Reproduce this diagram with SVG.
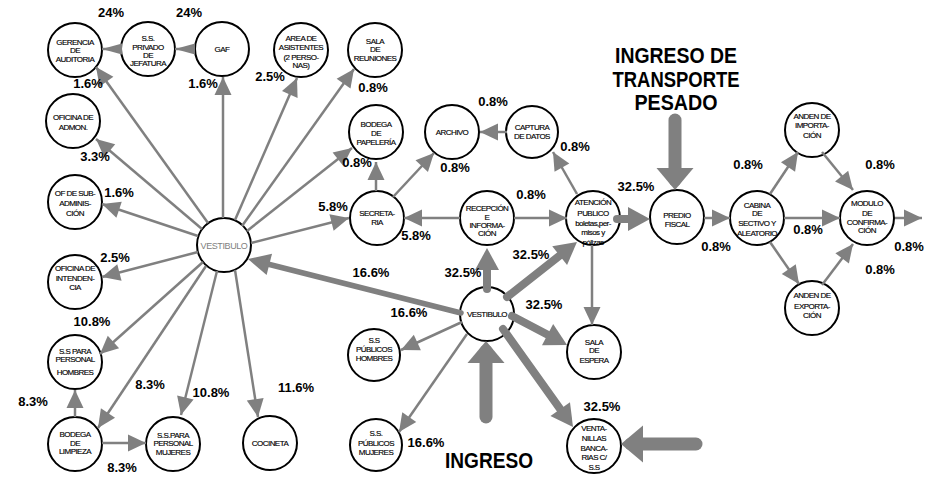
<svg xmlns="http://www.w3.org/2000/svg" width="926" height="477" viewBox="0 0 926 477">
<style>
.node circle{fill:#fff;stroke:#000;stroke-width:2}
.node text{font-family:"Liberation Sans",Arial,sans-serif;font-size:8px;letter-spacing:-0.55px;text-anchor:middle;fill:#000;stroke:#000;stroke-width:0.15}
#n-vestibulo-l text{font-size:9px;letter-spacing:-0.4px;fill:#808080;stroke:none}
.c{stroke:#808080;fill:none}
.thin{stroke-width:2.5;marker-end:url(#mt)}
.dart{stroke-width:2.5;marker-end:url(#md)}
.thick{stroke-width:8;stroke-linecap:round;marker-end:url(#mk)}
.mid{stroke-width:5.5;stroke-linecap:round;marker-end:url(#mm)}
.big{stroke-width:13;stroke-linecap:round;marker-end:url(#mb)}
.pct{font-family:"Liberation Sans",Arial,sans-serif;font-weight:bold;font-size:13px;text-anchor:middle;fill:#000}
.title{font-family:"Liberation Sans",Arial,sans-serif;font-weight:bold;font-size:22px;text-anchor:middle;fill:#000}
</style>
<defs>
<marker id="mt" markerUnits="userSpaceOnUse" markerWidth="18" markerHeight="17" refX="18" refY="8.5" orient="auto" overflow="visible"><path d="M0,0 L18,8.5 L0,17 z" fill="#808080"/></marker>
<marker id="md" markerUnits="userSpaceOnUse" markerWidth="20" markerHeight="11" refX="20" refY="5.5" orient="auto" overflow="visible"><path d="M0,0 L20,5.5 L0,11 z" fill="#808080"/></marker>
<marker id="mk" markerUnits="userSpaceOnUse" markerWidth="22" markerHeight="24" refX="12" refY="12" orient="auto" overflow="visible"><path d="M0,0 L22,12 L0,24 z" fill="#808080"/></marker>
<marker id="mm" markerUnits="userSpaceOnUse" markerWidth="22" markerHeight="22" refX="12" refY="11" orient="auto" overflow="visible"><path d="M0,0 L22,11 L0,22 z" fill="#808080"/></marker>
<marker id="mb" markerUnits="userSpaceOnUse" markerWidth="22" markerHeight="37" refX="12" refY="18.5" orient="auto" overflow="visible"><path d="M0,0 L22,18.5 L0,37 z" fill="#808080"/></marker>
</defs>
<rect width="926" height="477" fill="#fff"/>

<g id="nodes">
<g class="node" id="n-gerencia"><circle cx="75" cy="50" r="27"/><text x="75" y="44.5">GERENCIA</text><text x="75" y="53">DE</text><text x="75" y="61.5">AUDITORIA</text></g>
<g class="node" id="n-ss-privado"><circle cx="148" cy="49" r="27"/><text x="148" y="41">S.S.</text><text x="148" y="50">PRIVADO</text><text x="148" y="58">DE</text><text x="148" y="66">JEFATURA</text></g>
<g class="node" id="n-gaf"><circle cx="222" cy="49" r="27"/><text x="222" y="52">GAF</text></g>
<g class="node" id="n-area"><circle cx="301" cy="50" r="27"/><text x="301" y="41">AREA DE</text><text x="301" y="50">ASISTENTES</text><text x="301" y="60">(2 PERSO-</text><text x="301" y="68">NAS)</text></g>
<g class="node" id="n-sala-reuniones"><circle cx="375" cy="50" r="27"/><text x="375" y="44">SALA</text><text x="375" y="52">DE</text><text x="375" y="61">REUNIONES</text></g>
<g class="node" id="n-of-admon"><circle cx="73" cy="121" r="27"/><text x="73" y="120">OFICINA DE</text><text x="73" y="130">ADMON.</text></g>
<g class="node" id="n-bodega-pap"><circle cx="376" cy="132" r="27"/><text x="376" y="127">BODEGA</text><text x="376" y="136">DE</text><text x="376" y="145">PAPELERÍA</text></g>
<g class="node" id="n-of-sub"><circle cx="75" cy="202" r="27"/><text x="75" y="196">OF DE SUB-</text><text x="75" y="206">ADMINIS-</text><text x="75" y="216">CIÓN</text></g>
<g class="node" id="n-vestibulo-l"><circle cx="224" cy="245" r="27"/><text x="224" y="248.5">VESTIBULO</text></g>
<g class="node" id="n-secretaria"><circle cx="377" cy="218" r="27"/><text x="377" y="216">SECRETA-</text><text x="377" y="225">RIA</text></g>
<g class="node" id="n-intendencia"><circle cx="75" cy="282" r="27"/><text x="75" y="271">OFICINA DE</text><text x="75" y="281">INTENDEN-</text><text x="75" y="290">CIA</text></g>
<g class="node" id="n-ss-hombres"><circle cx="75" cy="362" r="27"/><text x="75" y="354">S.S PARA</text><text x="75" y="362">PERSONAL</text><text x="75" y="375">HOMBRES</text></g>
<g class="node" id="n-bodega-limp"><circle cx="75" cy="444" r="27"/><text x="75" y="437">BODEGA</text><text x="75" y="446">DE</text><text x="75" y="454">LIMPIEZA</text></g>
<g class="node" id="n-ss-mujeres"><circle cx="173" cy="444" r="27"/><text x="173" y="438">S.S.PARA</text><text x="173" y="446">PERSONAL</text><text x="173" y="455">MUJERES</text></g>
<g class="node" id="n-cocineta"><circle cx="270" cy="443" r="27"/><text x="270" y="446">COCINETA</text></g>
<g class="node" id="n-archivo"><circle cx="452" cy="132" r="27"/><text x="452" y="135">ARCHIVO</text></g>
<g class="node" id="n-captura"><circle cx="532" cy="132" r="26"/><text x="532" y="130">CAPTURA</text><text x="532" y="139">DE DATOS</text></g>
<g class="node" id="n-recepcion"><circle cx="487" cy="218" r="27"/><text x="487" y="211">RECEPCIÓN</text><text x="487" y="220">E</text><text x="487" y="228">INFORMA-</text><text x="487" y="236">CIÓN</text></g>
<g class="node" id="n-atencion"><circle cx="593" cy="218" r="27"/><text x="593" y="205">ATENCIÓN</text><text x="593" y="216">PUBLICO</text><text x="593" y="226">boletas,per-</text><text x="593" y="235">misos y</text><text x="593" y="245">pólizas</text></g>
<g class="node" id="n-vestibulo-c"><circle cx="487" cy="314" r="27"/><text x="487" y="316.5">VESTIBULO</text></g>
<g class="node" id="n-pub-hombres"><circle cx="374" cy="355" r="26"/><text x="374" y="343">S.S</text><text x="374" y="352">PÚBLICOS</text><text x="374" y="361">HOMBRES</text></g>
<g class="node" id="n-pub-mujeres"><circle cx="376" cy="445" r="26"/><text x="376" y="436">S.S.</text><text x="376" y="446">PÚBLICOS</text><text x="376" y="455">MUJERES</text></g>
<g class="node" id="n-sala-espera"><circle cx="594" cy="352" r="27"/><text x="594" y="345">SALA</text><text x="594" y="353">DE</text><text x="594" y="363">ESPERA</text></g>
<g class="node" id="n-ventanillas"><circle cx="594" cy="446" r="27"/><text x="594" y="431">VENTA-</text><text x="594" y="441">NILLAS</text><text x="594" y="451">BANCA-</text><text x="594" y="460">RIAS C/</text><text x="594" y="470">S.S</text></g>
<g class="node" id="n-predio"><circle cx="677" cy="217" r="27"/><text x="677" y="218">PREDIO</text><text x="677" y="227">FISCAL</text></g>
<g class="node" id="n-cabina"><circle cx="757" cy="218" r="27"/><text x="757" y="208">CABINA</text><text x="757" y="216">DE</text><text x="757" y="226">SECTIVO Y</text><text x="757" y="236">ALEATORIO</text></g>
<g class="node" id="n-import"><circle cx="812" cy="130" r="27"/><text x="812" y="119">ANDEN DE</text><text x="812" y="128">IMPORTA-</text><text x="812" y="138">CIÓN</text></g>
<g class="node" id="n-modulo"><circle cx="867" cy="218" r="27"/><text x="867" y="206">MODULO</text><text x="867" y="216">DE</text><text x="867" y="225">CONFIRMA-</text><text x="867" y="233">CIÓN</text></g>
<g class="node" id="n-export"><circle cx="812" cy="308" r="27"/><text x="812" y="298">ANDEN DE</text><text x="812" y="309">EXPORTA-</text><text x="812" y="318">CIÓN</text></g>
</g>

<g id="connectors">
<path class="c thin" d="M208,223 L96,67"/>
<path class="c thin" d="M202,229 L96,139"/>
<path class="c thin" d="M223,218 L223,77"/>
<path class="c thin" d="M235,220 L297,78"/>
<path class="c thin" d="M242,226 L354,69"/>
<path class="c thin" d="M247,231 L352,148"/>
<path class="c thin" d="M251,243 L349,218"/>
<path class="c thin" d="M198,236 L102,204"/>
<path class="c thin" d="M198,252 L102,277"/>
<path class="c thin" d="M203,262 L100,354"/>
<path class="c thin" d="M206,266 L98,428"/>
<path class="c thin" d="M217,271 L181,415"/>
<path class="c thin" d="M235,270 L258,417"/>
<path class="c dart" d="M195,49 L175,49"/>
<path class="c dart" d="M122,49 L102,49"/>
<path class="c thin" d="M75,417 L75,390"/>
<path class="c thin" d="M102,443 L146,443"/>
<path class="c thin" d="M376,191 L376,162"/>
<path class="c thin" d="M393,197 L434,153"/>
<path class="c thin" d="M460,218 L404,218"/>
<path class="c thin" d="M514,218 L567,218"/>
<path class="c thin" d="M507,132 L480,132"/>
<path class="c thin" d="M577,194 L553,152"/>
<path class="c thin" d="M592,245 L592,325"/>
<path class="c thin" d="M462,322 L401,350"/>
<path class="c thin" d="M467,334 L399,432"/>
<path class="c thin" d="M704,218 L730,218"/>
<path class="c thin" d="M770,194 L798,152"/>
<path class="c thin" d="M784,218 L840,218"/>
<path class="c thin" d="M770,242 L799,284"/>
<path class="c thin" d="M822,152 L853,190"/>
<path class="c thin" d="M822,285 L853,244"/>
<path class="c thin" d="M895,218 L922,218"/>
<path class="c thick" d="M487,289 L487,258"/>
<path class="c thick" d="M507,297 L569.1,248.2"/>
<path class="c thick" d="M512,316 L558.2,340.3"/>
<path class="c thick" d="M503,329 L567.2,418.9"/>
<path class="c thick" d="M617,219 L640,219"/>
<path class="c mid" d="M461,313 L257.7,261.5"/>
<path class="c big" d="M486,417 L486,351"/>
<path class="c big" d="M696,444 L631,444"/>
<path class="c big" d="M675,120 L675,180"/>
</g>

<g id="labels">
<text class="pct" x="111" y="17">24%</text>
<text class="pct" x="189" y="17">24%</text>
<text class="pct" x="88" y="88">1.6%</text>
<text class="pct" x="203" y="88">1.6%</text>
<text class="pct" x="270" y="81">2.5%</text>
<text class="pct" x="373" y="92">0.8%</text>
<text class="pct" x="95" y="161">3.3%</text>
<text class="pct" x="357" y="167">0.8%</text>
<text class="pct" x="119" y="197">1.6%</text>
<text class="pct" x="333" y="211">5.8%</text>
<text class="pct" x="416" y="240">5.8%</text>
<text class="pct" x="493" y="106">0.8%</text>
<text class="pct" x="455" y="172">0.8%</text>
<text class="pct" x="575" y="151">0.8%</text>
<text class="pct" x="531" y="199">0.8%</text>
<text class="pct" x="636" y="191">32.5%</text>
<text class="pct" x="531" y="259">32.5%</text>
<text class="pct" x="463" y="277">32.5%</text>
<text class="pct" x="544" y="309">32.5%</text>
<text class="pct" x="371" y="277">16.6%</text>
<text class="pct" x="409" y="317">16.6%</text>
<text class="pct" x="426" y="447">16.6%</text>
<text class="pct" x="602" y="411">32.5%</text>
<text class="pct" x="716" y="251">0.8%</text>
<text class="pct" x="748" y="169">0.8%</text>
<text class="pct" x="808" y="234">0.8%</text>
<text class="pct" x="880" y="169">0.8%</text>
<text class="pct" x="909" y="251">0.8%</text>
<text class="pct" x="880" y="274">0.8%</text>
<text class="pct" x="115" y="262">2.5%</text>
<text class="pct" x="92" y="326">10.8%</text>
<text class="pct" x="33" y="406">8.3%</text>
<text class="pct" x="150" y="389">8.3%</text>
<text class="pct" x="211" y="397">10.8%</text>
<text class="pct" x="296" y="392">11.6%</text>
<text class="pct" x="122" y="472">8.3%</text>
<text class="title" x="489" y="468" textLength="88" lengthAdjust="spacingAndGlyphs">INGRESO</text>
<text class="title" x="676" y="63" textLength="122" lengthAdjust="spacingAndGlyphs">INGRESO DE</text>
<text class="title" x="676" y="87" textLength="127" lengthAdjust="spacingAndGlyphs">TRANSPORTE</text>
<text class="title" x="676" y="110" textLength="83" lengthAdjust="spacingAndGlyphs">PESADO</text>
</g>
</svg>
